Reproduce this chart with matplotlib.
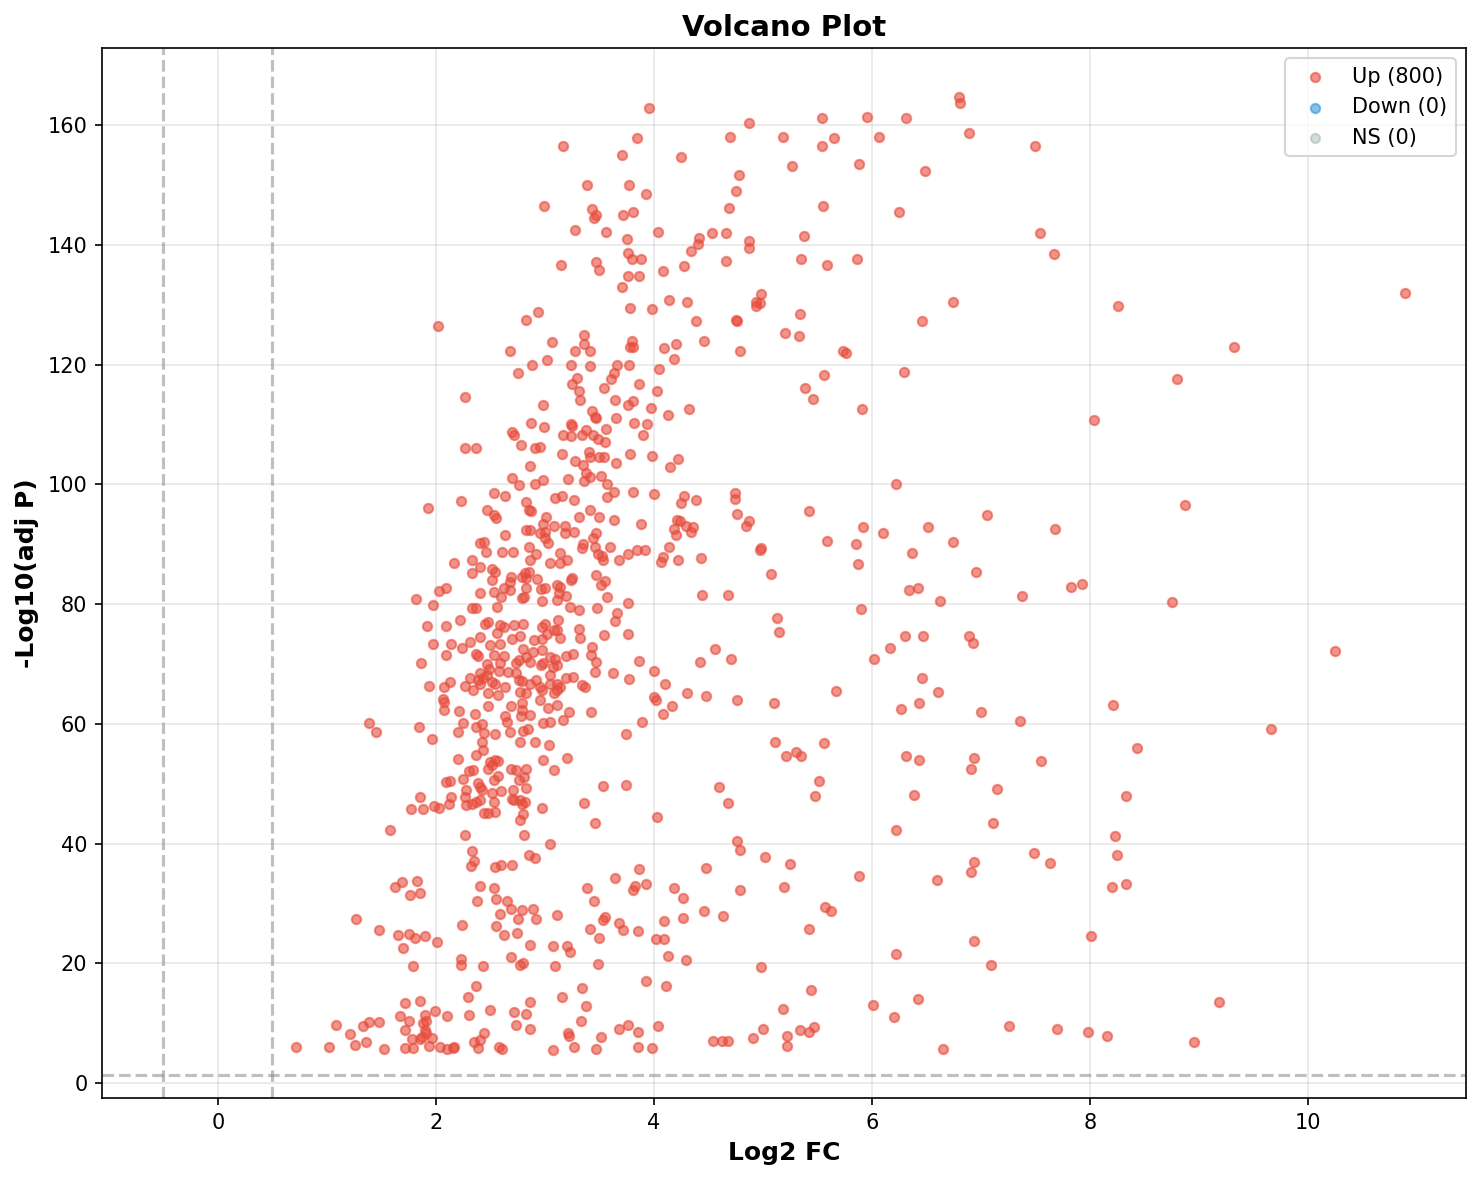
import matplotlib
matplotlib.use("Agg")
import matplotlib.pyplot as plt
import numpy as np

# ---- data: (log2 fold change, -log10 adj p) ----
pts_far_right = [
    (7.50,156.5),(7.54,142.0),(7.67,138.5),(8.26,129.8),(10.89,131.9),(9.32,123.0),(8.80,117.5),
    (8.04,110.8),(8.87,96.6),(7.68,92.6),(7.38,81.4),(7.83,82.9),(7.93,83.3),(8.75,80.3),
    (10.25,72.2),(8.21,63.1),(7.36,60.4),(9.66,59.2),(8.43,56.0),(7.55,53.7),(7.15,49.1),
    (8.33,48.0),(8.23,41.2),(7.49,38.5),(7.63,36.7),(8.25,38.0),(8.20,32.8),(8.33,33.3),
    (8.01,24.5),(9.18,13.5),(7.26,9.5),(7.70,9.1),(7.98,8.5),(8.16,7.8),(8.95,6.8),
    (7.11,43.5),(7.09,19.7),
]
pts_mid_high = [
    (6.80,164.6),(6.81,163.7),(6.89,158.7),(6.31,161.2),(5.95,161.4),(5.54,161.2),(4.87,160.4),
    (4.70,158.0),(5.18,158.0),(5.65,157.9),(5.54,156.5),(6.06,158.0),(4.25,154.6),(5.27,153.2),
    (5.88,153.5),(6.49,152.4),(4.78,151.7),(4.75,149.0),(4.69,146.2),(5.55,146.5),(6.25,145.5),
    (4.41,141.1),(4.40,140.1),(4.34,139.0),(4.53,141.9),(4.66,141.9),(4.87,140.7),(4.87,139.5),
    (5.38,141.4),(4.28,136.5),(4.66,137.3),(5.35,137.7),(5.59,136.7),(5.86,137.7),(6.74,130.5),
    (6.46,127.2),(4.30,130.5),(4.39,127.2),(4.46,124.0),(4.98,131.7),(4.94,130.5),
    (4.97,130.2),(4.94,129.8),(4.75,127.5),(4.76,127.2),(4.79,122.3),(5.34,128.5),(5.20,125.2),
    (5.33,124.7),(5.73,122.2),(5.76,122.0),(5.56,118.3),(6.29,118.8),(5.39,116.0),(5.46,114.3),
    (4.32,112.6),(5.91,112.6),(6.22,100.1),(4.74,98.5),(4.74,97.5),(4.28,98.0),
    (4.25,96.8),(4.39,97.3),(4.76,95.0),(4.87,93.8),(4.84,93.0),(5.42,95.6),(7.06,94.8),
    (5.92,92.9),(6.10,91.8),(6.51,92.8),(5.59,90.6),(5.85,90.0),(6.74,90.3),(4.24,93.9),
    (4.29,93.0),(4.36,92.8),(4.34,92.0),(4.98,89.3),(4.97,89.0),
]
pts_mid_low = [
    (4.43,87.7),(5.07,85.0),(4.44,81.5),(4.68,81.5),(5.87,86.7),(6.37,88.5),(6.95,85.4),
    (6.34,82.3),(6.42,82.7),(6.62,80.5),(5.90,79.1),(5.13,77.6),(5.15,75.3),(4.56,72.5),
    (4.42,70.3),(4.71,70.9),(6.02,70.9),(6.17,72.6),(6.30,74.7),(6.47,74.7),(6.89,74.7),
    (6.93,73.5),(6.46,67.6),(6.61,65.3),(6.27,62.5),(6.43,63.4),(7.00,62.0),(4.30,65.1),
    (4.48,64.6),(4.76,63.9),(5.10,63.4),(5.67,65.5),(5.11,56.9),(5.21,54.6),(5.30,55.3),
    (5.35,54.7),(5.56,56.8),(6.31,54.7),(6.43,53.9),(6.94,54.3),(6.91,52.5),(6.39,48.1),
    (6.22,42.3),(4.60,49.4),(4.68,46.7),(5.51,50.4),(5.48,48.0),(4.76,40.4),(4.79,39.0),
    (4.48,35.9),(5.02,37.8),(5.25,36.5),(5.19,32.7),(4.79,32.3),(5.88,34.5),(6.60,33.9),
    (6.94,36.9),(6.91,35.3),(4.27,30.9),(4.27,27.5),(4.46,28.7),(4.63,27.9),(5.57,29.4),
    (5.62,28.8),(5.42,25.7),(4.29,20.5),(4.98,19.3),(6.22,21.5),(6.94,23.7),(5.44,15.5),
    (5.18,12.3),(6.01,13.0),(6.20,11.1),(6.42,14.0),(6.65,5.6),(5.00,9.1),(4.91,7.5),
    (5.22,7.9),(5.22,6.2),(5.34,8.8),(5.42,8.6),(5.47,9.3),(4.54,7.0),(4.62,7.0),(4.68,7.0),
]
pts_core_top = [
    (3.95,162.9),(3.84,157.9),(3.17,156.5),(3.71,155.0),(3.39,150.0),(3.77,150.0),(3.93,148.5),
    (2.99,146.4),(3.43,146.0),(3.47,144.9),(3.45,144.4),(3.72,144.9),(3.81,145.5),(3.28,142.5),
    (3.56,142.2),(4.04,142.2),(3.75,140.9),(3.76,138.7),(3.80,137.7),(3.88,137.7),(3.47,137.2),
    (3.50,135.8),(3.15,136.7),(4.08,135.6),(3.76,134.7),(3.86,134.8),(3.71,132.9),(3.78,129.4),
    (3.98,129.2),(4.14,130.7),(2.94,128.8),(2.83,127.5),(2.02,126.4),(3.06,123.8),(3.36,125.0),
    (3.36,123.4),(3.80,124.0),(3.78,122.9),(3.81,122.9),(4.09,122.7),(4.20,123.5),(2.68,122.3),
    (3.28,122.2),(3.41,122.2),
]
pts_core_upper = [
    (2.88,119.9),(3.02,120.8),(2.75,118.5),(3.24,119.9),(3.41,119.7),(3.66,120.0),(3.77,119.9),
    (4.05,119.3),(4.18,121.0),(3.29,117.8),(3.25,116.7),(3.31,115.5),(3.32,114.0),(3.63,118.5),
    (3.61,117.6),(3.54,116.0),(3.86,116.7),(4.03,115.6),(3.64,114.0),(3.76,113.3),(3.81,113.9),
    (3.97,112.8),(4.13,111.5),(2.98,113.2),(3.43,112.3),(3.46,111.2),(3.47,111.0),(3.65,111.0),
    (3.82,110.2),(3.94,110.0),(3.90,108.2),(3.24,110.1),(3.25,109.7),(2.87,110.2),(2.99,109.5),
    (2.70,108.8),(2.72,108.2),(2.78,106.5),(2.91,106.1),(2.95,106.3),(3.17,108.2),(3.24,108.0),
    (3.34,108.2),(3.38,109.0),(3.44,108.2),(3.49,107.6),(3.55,107.1),(3.56,109.2),(3.78,105.0),
    (3.98,104.8),(4.15,102.8),(4.22,104.2),(3.16,105.0),(3.28,103.9),(3.40,105.4),(3.41,104.6),
    (3.50,104.6),(3.54,104.6),(3.65,103.5),(2.86,103.0),(3.35,103.2),(3.38,101.8),(3.41,101.2),
    (3.36,100.5),(3.51,101.3),(3.57,100.0),(3.63,98.7),(3.57,97.8),(3.81,98.7),(4.00,98.3),
    (3.21,100.9),(2.98,100.7),(2.91,100.1),(2.76,99.8),(2.70,101.1),(2.53,98.5),(2.63,98.1),
    (3.09,97.7),(3.16,98.1),(3.27,97.3),(2.83,97.1),(2.85,95.7),(2.87,95.6),(2.47,95.7),
    (2.53,94.8),(2.55,94.3),(3.01,94.5),(2.98,93.4),(3.08,93.0),(3.18,93.0),(3.31,94.5),
    (3.41,95.7),(3.50,94.5),(3.63,94.1),(3.88,93.4),(4.21,94.0),(4.18,92.5),(4.20,91.5),
    (2.83,92.3),(2.86,92.3),(2.95,91.9),(3.00,92.1),(3.00,91.0),(3.03,90.2),(3.18,91.8),
    (3.27,92.1),(3.47,91.9),(3.44,91.1),(2.40,90.2),(2.44,90.4),(2.63,91.5),(3.35,90.1),
    (3.34,89.3),(3.46,89.5),(3.49,88.3),(3.52,88.0),(3.53,87.3),(3.60,89.6),(3.68,87.4),
    (3.76,88.4),(3.84,89.0),(3.92,89.0),(4.08,87.8),(4.06,87.0),(4.14,89.6),(4.22,87.4),
]
pts_core_mid = [
    (2.46,88.7),(2.61,88.7),(2.71,88.7),(2.85,89.6),(2.92,88.3),(2.86,87.3),(3.05,86.9),
    (3.14,88.5),(3.14,86.9),(3.20,87.3),(2.40,86.1),(2.51,85.9),(2.54,85.4),(2.51,84.0),
    (2.69,84.5),(2.68,83.7),(2.79,84.5),(2.82,85.1),(2.85,85.4),(2.83,84.3),(2.93,84.1),
    (2.40,81.8),(2.53,82.0),(2.62,82.6),(2.68,82.3),(2.60,81.2),(2.83,82.6),(2.79,81.0),
    (2.81,81.2),(2.96,82.5),(3.00,82.7),(3.11,83.1),(3.14,82.8),(3.13,81.8),(3.19,81.3),
    (3.25,84.3),(3.24,84.0),(3.31,79.0),(3.11,80.6),(3.23,79.5),(2.97,80.5),(2.56,79.5),
    (3.48,79.3),(3.47,84.8),(3.51,83.1),(3.55,83.8),(3.57,81.1),(3.66,78.5),(3.64,77.2),
    (3.76,80.1),(3.76,75.0),(3.86,70.4),(4.00,68.8),(4.10,66.7),(4.00,64.5),(3.54,74.8),
    (3.62,68.5),(3.77,67.4),(3.46,68.7),(3.47,70.3),(3.43,72.8),(3.42,71.5),(3.32,74.4),
    (3.31,75.9),(3.12,77.3),(3.11,75.6),(3.08,75.6),(3.14,74.4),(3.26,71.7),(3.19,71.3),
    (2.97,74.2),(3.02,75.0),(2.97,76.2),(3.00,76.6),(2.90,74.0),(2.80,76.7),(2.72,76.5),
    (2.77,74.6),(2.70,74.1),(2.59,76.5),(2.62,76.2),(2.56,75.1),(2.45,76.7),(2.48,77.0),
    (2.50,73.1),(2.59,73.4),(2.40,74.5),(2.76,70.6),(2.80,72.5),(2.89,72.0),(2.97,72.3),
    (2.96,69.8),(2.98,70.2),(3.05,71.2),(3.09,70.9),(3.07,69.5),(3.11,69.8),(2.83,71.2),
    (2.86,70.3),(2.53,71.5),(2.62,71.3),(2.73,70.2),(2.59,70.2),(2.58,68.8),(2.47,70.0),
    (2.49,69.2),(2.40,68.4),(2.43,67.6),(2.47,68.1),(2.51,67.0),(2.54,66.7),(2.66,68.7),
    (2.73,68.4),(2.76,67.3),(2.79,67.1),(2.86,66.7),(2.92,67.3),(2.95,66.2),(2.83,65.1),
    (2.77,65.3),(2.97,65.6),(3.05,68.1),(3.05,66.7),(3.11,66.7),(3.14,66.2),(3.19,67.6),
    (3.26,67.8),(3.08,65.1),(3.11,65.6),(3.34,66.4),(3.37,66.2),(2.40,66.7),(2.57,64.8),
    (2.63,66.2),(2.48,65.1),
]
pts_left_upper = [
    (2.27,114.5),(2.27,106.1),(2.37,106.0),(2.23,97.2),(1.93,96.1),(2.17,86.9),(2.33,87.3),
    (2.33,85.2),(2.09,82.6),(2.03,82.2),(1.82,80.8),(1.97,79.9),(2.33,79.3),(2.37,79.3),
    (2.22,77.3),(1.92,76.3),(2.09,76.3),(1.97,73.3),(2.14,73.3),(2.24,72.7),(2.31,73.6),
    (2.37,71.7),(2.39,71.3),(2.09,71.5),(1.86,70.1),(1.94,66.3),(2.07,66.2),(2.13,67.0),
    (2.27,66.3),(2.31,67.6),(2.34,65.6),(2.39,67.3),(2.06,64.2),
]
pts_left_lower = [
    (2.07,63.7),(2.07,62.3),(2.21,62.1),(2.36,61.6),(2.25,60.1),(2.20,58.6),(2.37,59.5),
    (1.39,60.2),(1.45,58.7),(1.84,59.5),(1.96,57.4),(2.20,54.1),(2.37,54.8),(2.30,52.1),
    (2.34,52.3),(2.25,50.8),(2.09,50.3),(2.13,50.5),(2.39,50.1),(2.28,48.9),(2.27,47.8),
    (1.85,47.7),(1.77,45.7),(1.88,45.7),(1.98,46.3),(2.03,46.0),(2.12,46.6),(2.14,47.8),
    (2.28,46.4),(2.33,46.6),(2.37,47.0),(1.58,42.2),(2.27,41.4),(2.33,38.7),(2.35,37.1),
    (2.32,36.3),(1.62,32.7),(1.69,33.6),(1.76,31.4),(1.83,33.7),(1.85,31.8),(2.40,32.9),
    (2.38,30.4),(1.27,27.4),(1.48,25.5),(1.65,24.7),(1.75,24.9),(1.81,24.2),(1.90,24.5),
    (1.70,22.5),(2.01,23.5),(2.24,26.4),(1.79,19.5),(2.23,20.7),(2.23,19.7),(2.37,16.2),
    (2.29,14.4),(1.72,13.4),(1.85,13.7),(1.99,12.1),(2.10,11.2),(2.30,11.4),(1.67,11.2),
    (1.75,10.4),(1.72,8.8),(1.90,11.4),(1.91,10.4),(1.88,10.0),(1.90,8.8),(1.91,8.3),
    (1.87,7.7),(1.96,7.6),(1.78,7.3),(1.85,7.3),(1.08,9.7),(1.33,9.5),(1.39,10.2),
    (1.48,10.2),(1.21,8.2),(1.26,6.3),(1.36,6.9),(0.72,6.0),(1.02,6.0),(1.52,5.7),
    (1.72,5.8),(1.79,5.8),(1.94,6.2),(2.04,6.1),(2.10,5.6),(2.16,5.8),(2.17,6.1),
    (2.35,6.9),(2.39,5.8),
]
pts_core_low = [
    (2.48,62.9),(2.69,62.9),(2.79,63.4),(2.79,62.3),(2.95,63.9),(3.03,62.7),(3.11,63.1),
    (3.22,61.9),(3.42,61.9),(2.63,61.3),(2.65,60.3),(2.86,61.4),(2.98,60.2),(3.05,60.3),
    (3.17,60.7),(2.78,61.3),(2.42,59.9),(2.44,58.4),(2.54,58.3),(2.68,58.7),(2.80,58.8),
    (2.84,59.1),(2.77,57.0),(2.91,57.0),(3.04,56.4),(2.42,56.9),(2.43,55.7),(3.89,60.3),
    (3.74,58.3),(4.02,63.9),(4.08,61.7),(4.17,62.9),(2.98,54.0),(3.20,54.2),(3.08,52.3),
    (2.50,53.6),(2.54,53.9),(2.57,53.8),(2.48,52.5),(2.51,53.1),(2.69,52.5),(2.73,52.3),
    (2.83,52.4),(2.57,51.3),(2.76,50.6),(2.81,51.1),(2.40,49.5),(2.53,50.6),(2.42,48.9),
    (2.51,48.4),(2.60,48.8),(2.71,49.0),(2.83,49.2),(2.40,47.2),(2.53,47.0),(2.70,47.5),
    (2.72,47.2),(2.77,47.2),(2.82,47.0),(2.79,46.6),(2.44,45.1),(2.48,45.1),(2.54,45.3),
    (2.80,44.9),(2.77,43.9),(2.97,45.9),(3.36,46.7),(3.53,49.6),(3.74,49.8),(3.46,43.4),
    (4.03,44.4),(2.81,41.5),(3.05,40.0),(2.85,38.0),(2.91,37.6),(2.54,36.1),(2.60,36.4),
    (2.70,36.4),(3.86,35.7),(3.64,34.3),(3.83,32.9),(3.81,32.2),(3.93,33.2),(4.18,32.5),
    (2.53,32.5),(3.39,32.5),(3.45,30.4),(2.55,30.8),(2.65,30.4),(2.79,28.9),(2.89,29.0),
    (2.69,29.0),(2.59,28.3),(2.75,27.4),(2.92,27.4),(3.11,28.1),(3.55,27.8),(3.53,27.2),
    (3.68,26.8),(3.72,25.5),(3.85,25.4),(3.41,25.7),(3.50,24.2),(2.55,26.3),(2.62,24.7),
    (2.74,25.0),(2.86,23.0),(3.07,22.9),(3.20,22.9),(3.23,21.8),(2.43,19.6),(2.69,21.1),
    (2.77,19.7),(2.80,20.1),(3.09,19.5),(3.49,19.9),(4.09,24.0),(4.02,24.0),(4.13,21.2),
    (3.93,17.0),(4.11,16.2),(3.34,15.9),(3.16,14.3),(3.38,12.9),(3.33,10.4),(2.50,12.2),
    (2.72,11.9),(2.83,11.5),(2.86,13.6),(2.73,9.7),(2.86,9.0),(2.44,8.3),(2.40,7.2),
    (2.58,6.1),(2.61,5.6),(3.07,5.5),(3.21,8.3),(3.22,7.8),(3.27,6.0),(3.47,5.6),
    (3.51,7.7),(3.68,9.1),(3.76,9.7),(3.85,8.5),(3.85,6.0),(3.98,5.8),(4.04,9.5),(4.09,27.0),
]
down_pts = []
ns_pts = []

up_label = "Up (800)"
down_label = "Down (0)"
ns_label = "NS (0)"
fc_threshold = 0.5
p_threshold = 0.05

up_pts = (pts_far_right + pts_mid_high + pts_mid_low + pts_core_top + pts_core_upper
          + pts_core_mid + pts_left_upper + pts_left_lower + pts_core_low)
up = np.array(up_pts)

fig = plt.figure(figsize=(1482 / 150, 1180 / 150), dpi=150)
ax = fig.add_axes([102 / 1482, 1 - 1098 / 1180, (1466 - 102) / 1482, (1098 - 48) / 1180])

ax.scatter(up[:, 0], up[:, 1], c="#e74c3c", alpha=0.6, s=20, label=up_label, zorder=3)
ax.scatter([p[0] for p in down_pts], [p[1] for p in down_pts], c="#3498db", alpha=0.6, s=20,
           label=down_label, zorder=3)
ax.scatter([p[0] for p in ns_pts], [p[1] for p in ns_pts], c="#95a5a6", alpha=0.4, s=20,
           label=ns_label, zorder=3)

ax.axhline(-np.log10(p_threshold), color="gray", linestyle="--", alpha=0.5, linewidth=1.5)
ax.axvline(fc_threshold, color="gray", linestyle="--", alpha=0.5, linewidth=1.5)
ax.axvline(-fc_threshold, color="gray", linestyle="--", alpha=0.5, linewidth=1.5)

ax.set_xlim(-1.064, 11.45)
ax.set_ylim(-2.5, 172.86)
ax.set_xticks([0, 2, 4, 6, 8, 10])
ax.set_yticks([0, 20, 40, 60, 80, 100, 120, 140, 160])
ax.grid(True, alpha=0.3)
ax.set_axisbelow(True)

ax.set_xlabel("Log2 FC", fontsize=12, fontweight="bold")
ax.set_ylabel("-Log10(adj P)", fontsize=12, fontweight="bold")
ax.set_title("Volcano Plot", fontsize=14, fontweight="bold")
ax.legend(loc="upper right", fontsize=10)

fig.savefig("out.png", dpi=150)
